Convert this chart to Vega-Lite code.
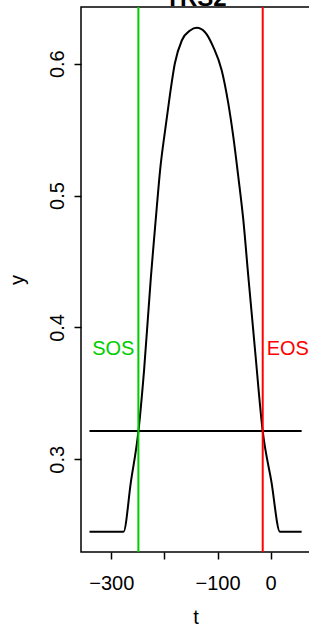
{
  "$schema": "https://vega.github.io/schema/vega-lite/v6.json",
  "width": 229,
  "height": 545,
  "autosize": {"type": "none"},
  "padding": {"left": 81, "top": 7, "right": 0, "bottom": 77},
  "background": "white",
  "config": {
    "font": "Liberation Sans",
    "view": {"stroke": "black", "strokeWidth": 1.5},
    "axis": {
      "grid": false,
      "domain": false,
      "tickColor": "black",
      "tickWidth": 1.5,
      "tickSize": 7,
      "labelFont": "Liberation Sans",
      "labelFontSize": 20,
      "labelColor": "black",
      "titleFont": "Liberation Sans",
      "titleFontSize": 20,
      "titleFontWeight": "normal",
      "titleColor": "black"
    }
  },
  "resolve": {"axis": {"x": "independent"}},
  "datasets": {
    "curve": [
      {"t": -341, "y": 0.245},
      {"t": -277, "y": 0.245},
      {"t": -262.9, "y": 0.2834},
      {"t": -248.9, "y": 0.3213},
      {"t": -238.2, "y": 0.368},
      {"t": -225.6, "y": 0.4374},
      {"t": -220.7, "y": 0.4613},
      {"t": -214.3, "y": 0.4915},
      {"t": -208.1, "y": 0.5193},
      {"t": -198.7, "y": 0.5495},
      {"t": -189.3, "y": 0.5773},
      {"t": -180.5, "y": 0.6000},
      {"t": -167.3, "y": 0.6176},
      {"t": -151.7, "y": 0.6252},
      {"t": -139.1, "y": 0.6272},
      {"t": -123.5, "y": 0.6239},
      {"t": -107.9, "y": 0.6126},
      {"t": -92.1, "y": 0.5949},
      {"t": -79.7, "y": 0.5697},
      {"t": -70.3, "y": 0.5445},
      {"t": -60.9, "y": 0.5142},
      {"t": -51.5, "y": 0.4815},
      {"t": -42.1, "y": 0.4386},
      {"t": -29.5, "y": 0.3831},
      {"t": -15, "y": 0.3213},
      {"t": 1.2, "y": 0.2834},
      {"t": 17.5, "y": 0.245},
      {"t": 58.3, "y": 0.245}
    ],
    "marks": [
      {"label": "SOS", "t": -249, "ty": 0.3837},
      {"label": "EOS", "t": -15, "ty": 0.3837}
    ],
    "threshold": [
      {"t1": -341, "t2": 58.3, "y": 0.3214}
    ]
  },
  "layer": [
    {
      "data": {"name": "curve"},
      "mark": {"type": "line", "color": "black", "strokeWidth": 2, "interpolate": "monotone"},
      "encoding": {
        "x": {
          "field": "t", "type": "quantitative", "title": "t",
          "scale": {"domain": [-357, 74], "nice": false, "zero": false},
          "axis": {
            "values": [-300, -200, -100, 0],
            "labelExpr": "datum.value == -200 ? '' : datum.label",
            "labelPadding": 14.5,
            "labelFlush": false,
            "titleBaseline": "alphabetic",
            "titleY": 71
          }
        },
        "y": {
          "field": "y", "type": "quantitative", "title": "y",
          "scale": {"domain": [0.2297, 0.643], "nice": false, "zero": false},
          "axis": {
            "values": [0.3, 0.4, 0.5, 0.6],
            "format": ".1f",
            "labelAngle": -90,
            "labelAlign": "center",
            "labelBaseline": "alphabetic",
            "labelPadding": 10.5,
            "labelFlush": false,
            "titleAngle": -90,
            "titleBaseline": "alphabetic",
            "titleAlign": "center",
            "titleX": -58,
            "titleY": 272.5
          }
        }
      }
    },
    {
      "data": {"name": "threshold"},
      "mark": {"type": "rule", "color": "black", "strokeWidth": 2},
      "encoding": {
        "x": {
          "field": "t1", "type": "quantitative", "title": "TRS2",
          "axis": {
            "orient": "top",
            "ticks": false,
            "labels": false,
            "domain": false,
            "title": "TRS2",
            "titleFontSize": 24,
            "titleFontWeight": "bold",
            "titleBaseline": "alphabetic",
            "titleAlign": "center",
            "titleY": -2
          }
        },
        "x2": {"field": "t2"},
        "y": {"field": "y", "type": "quantitative"}
      }
    },
    {
      "data": {"name": "marks"},
      "mark": {"type": "rule", "strokeWidth": 2},
      "encoding": {
        "x": {"field": "t", "type": "quantitative", "axis": null},
        "color": {
          "field": "label", "type": "nominal",
          "scale": {"domain": ["SOS", "EOS"], "range": ["#00CD00", "#FF0000"]},
          "legend": null
        }
      }
    },
    {
      "data": {"name": "marks"},
      "transform": [{"filter": "datum.label == 'SOS'"}],
      "mark": {"type": "text", "align": "right", "baseline": "middle", "dx": -4, "fontSize": 20, "font": "Liberation Sans"},
      "encoding": {
        "x": {"field": "t", "type": "quantitative", "axis": null},
        "y": {"field": "ty", "type": "quantitative"},
        "text": {"field": "label"},
        "color": {
          "field": "label", "type": "nominal",
          "scale": {"domain": ["SOS", "EOS"], "range": ["#00CD00", "#FF0000"]},
          "legend": null
        }
      }
    },
    {
      "data": {"name": "marks"},
      "transform": [{"filter": "datum.label == 'EOS'"}],
      "mark": {"type": "text", "align": "left", "baseline": "middle", "dx": 4, "fontSize": 20, "font": "Liberation Sans"},
      "encoding": {
        "x": {"field": "t", "type": "quantitative", "axis": null},
        "y": {"field": "ty", "type": "quantitative"},
        "text": {"field": "label"},
        "color": {
          "field": "label", "type": "nominal",
          "scale": {"domain": ["SOS", "EOS"], "range": ["#00CD00", "#FF0000"]},
          "legend": null
        }
      }
    }
  ]
}
